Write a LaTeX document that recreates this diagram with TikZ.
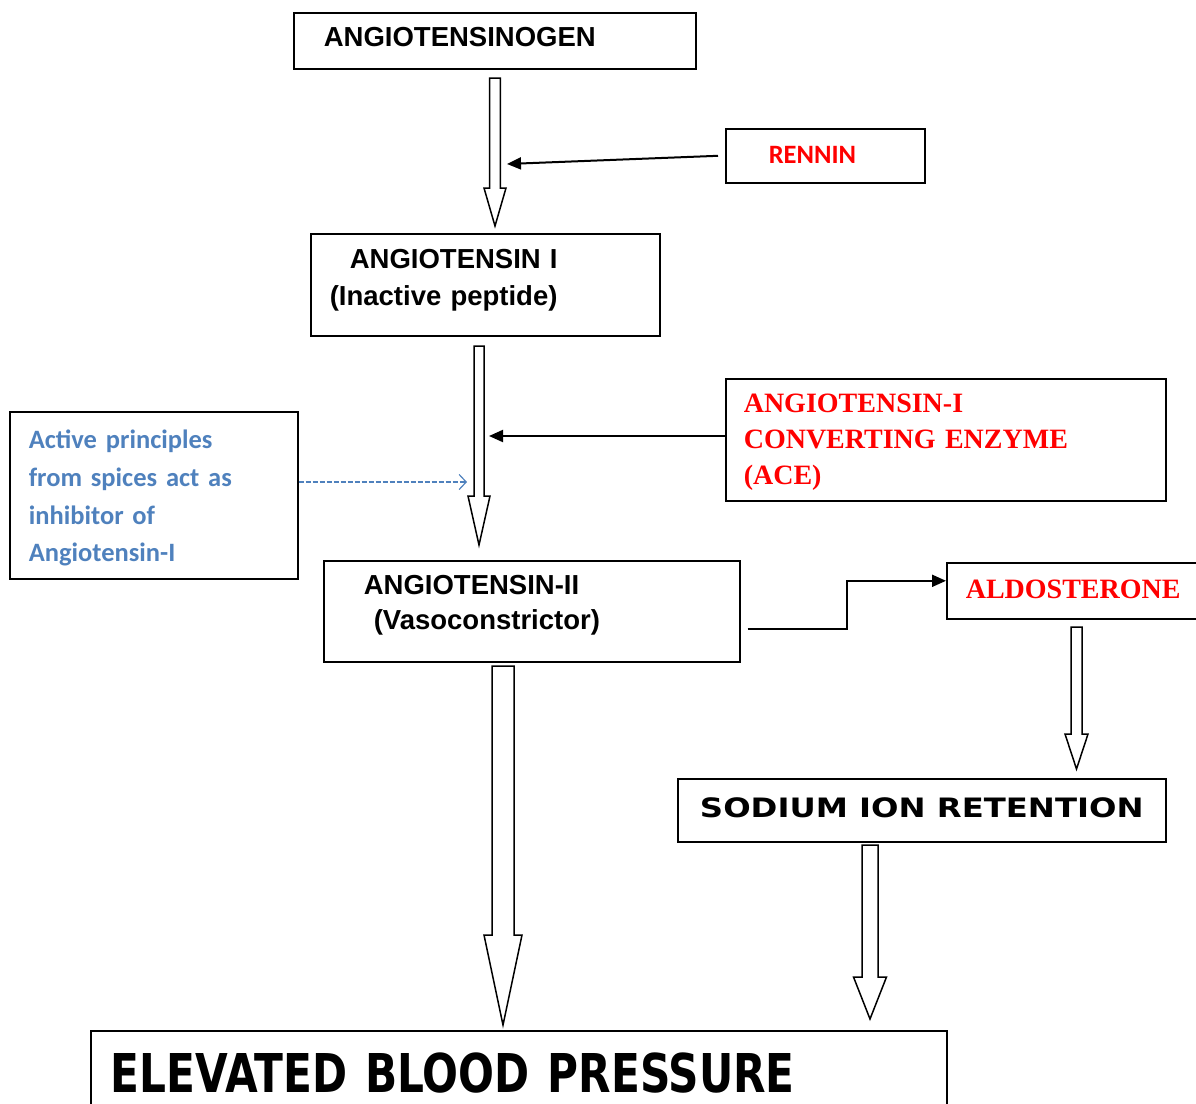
\documentclass[tikz,border=0pt]{standalone}
\usepackage{fontspec}
\usetikzlibrary{arrows.meta, calc}
\newfontfamily\helvfont{Liberation Sans}
\newfontfamily\calfont{Carlito}
\newfontfamily\timesfont{Liberation Serif}
\newfontfamily\comicwide[FakeStretch=1.21]{DejaVu Sans}
\newfontfamily\comicnarrow[FakeStretch=0.79]{DejaVu Sans}
\definecolor{spiceblue}{RGB}{79,129,189}

% hollow block arrow: start, tip, shaft half width, head half width, head length
\newcommand{\bigarrow}[5]{%
  \draw[hollow] ($(#1)+(-#3,0)$) -- ($(#2)+(-#3,-#5)$) -- ($(#2)+(-#4,-#5)$) -- (#2)
    -- ($(#2)+(#4,-#5)$) -- ($(#2)+(#3,-#5)$) -- ($(#1)+(#3,0)$) -- cycle;}

\begin{document}
\begin{tikzpicture}[x=1pt, y=-1pt,
  box/.style={draw, line width=1.6pt, anchor=north west, align=left, inner ysep=0pt},
  helv/.style={font=\helvfont\bfseries\fontsize{27.5}{37}\selectfont},
  cal/.style={font=\calfont\bfseries\fontsize{26.5}{37.7}\selectfont},
  tms/.style={font=\timesfont\bfseries\fontsize{28}{36}\selectfont, text=red},
  arrow/.style={-{Triangle[length=14pt, width=12pt]}, line width=2pt},
  spicearrow/.style={draw=spiceblue, line width=1.2pt, dash pattern=on 5pt off 2pt,
    -{Straight Barb[length=7pt, width=15pt]}},
  hollow/.style={draw, line width=1.5pt, fill=white}
]
\useasboundingbox (0,0) rectangle (1196,1103);

% Boxes
\node[box, helv, text width=342pt, inner xsep=30pt, text height=34pt, text depth=22pt] (gen) at (293,12) {ANGIOTENSINOGEN};
\node[box, cal, text=red, text width=113pt, inner xsep=43pt, text height=35pt, text depth=19pt] (renin) at (725,128) {RENNIN};
\node[box, helv, text width=311pt, inner xsep=19pt, text height=35pt, text depth=67pt] (angI) at (310,233) {\hspace*{20pt}ANGIOTENSIN I\\(Inactive peptide)};
\node[box, tms, text width=404pt, inner xsep=18pt, text height=34pt, text depth=88pt] (ace) at (725,378) {ANGIOTENSIN-I\\CONVERTING ENZYME\\(ACE)};
\node[box, cal, text=spiceblue, text width=250pt, inner xsep=19pt, text height=37pt, text depth=130pt] (spice) at (9,411) {Active principles\\from spices act as\\inhibitor of\\Angiotensin-I};
\node[box, helv, font=\helvfont\bfseries\fontsize{27.5}{35}\selectfont, text width=336pt, inner xsep=40pt, text height=34pt, text depth=67pt] (angII) at (323,560) {ANGIOTENSIN-II\\\hspace*{10pt}(Vasoconstrictor)};
\node[box, tms, text width=232pt, inner xsep=19pt, text height=36pt, text depth=20pt] (ald) at (946,562) {ALDOSTERONE};
\node[box, font=\comicwide\bfseries\fontsize{26.7}{30}\selectfont, align=center, minimum width=488pt, inner xsep=0pt, text height=39pt, text depth=24pt] (sodium) at (677,778) {SODIUM ION RETENTION};
\node[box, font=\comicnarrow\bfseries\fontsize{53.5}{60}\selectfont, text width=816pt, inner xsep=20pt, text height=62pt, text depth=12pt] (ebp) at (90,1030) {ELEVATED BLOOD PRESSURE};

% Block arrows
\coordinate (a1s) at (495,78);
\coordinate (a1e) at (495,226);
\coordinate (a2s) at (479,346);
\coordinate (a2e) at (479,545);
\coordinate (a3s) at (503,666);
\coordinate (a3e) at (503,1025);
\coordinate (a4s) at (1076.5,627);
\coordinate (a4e) at (1076.5,769);
\coordinate (a5s) at (870,845);
\coordinate (a5e) at (870,1019);
\bigarrow{a1s}{a1e}{5.3}{11}{38}
\bigarrow{a2s}{a2e}{5}{11}{49}
\bigarrow{a3s}{a3e}{11}{19}{90}
\bigarrow{a4s}{a4e}{5.5}{11.5}{35}
\bigarrow{a5s}{a5e}{8}{16.5}{42}

% Enzymes and inhibitor
\coordinate (reninhit) at (507,164);
\coordinate (acehit) at (489,436);
\coordinate (spicehit) at (467,482);
\draw[arrow] ([xshift=-7pt]renin.west) -- (reninhit);
\draw[arrow] (acehit -| ace.west) -- (acehit);
\draw[spicearrow] (spicehit -| spice.east) -- (spicehit);

% Angiotensin II to aldosterone
\coordinate (elbow) at ([xshift=7pt, yshift=-17.5pt]angII.east);
\coordinate (aldin) at ([yshift=10pt]ald.west);
\draw[arrow] (elbow) -| ($(elbow)!0.5!(aldin)$) |- (aldin);

\end{tikzpicture}
\end{document}
